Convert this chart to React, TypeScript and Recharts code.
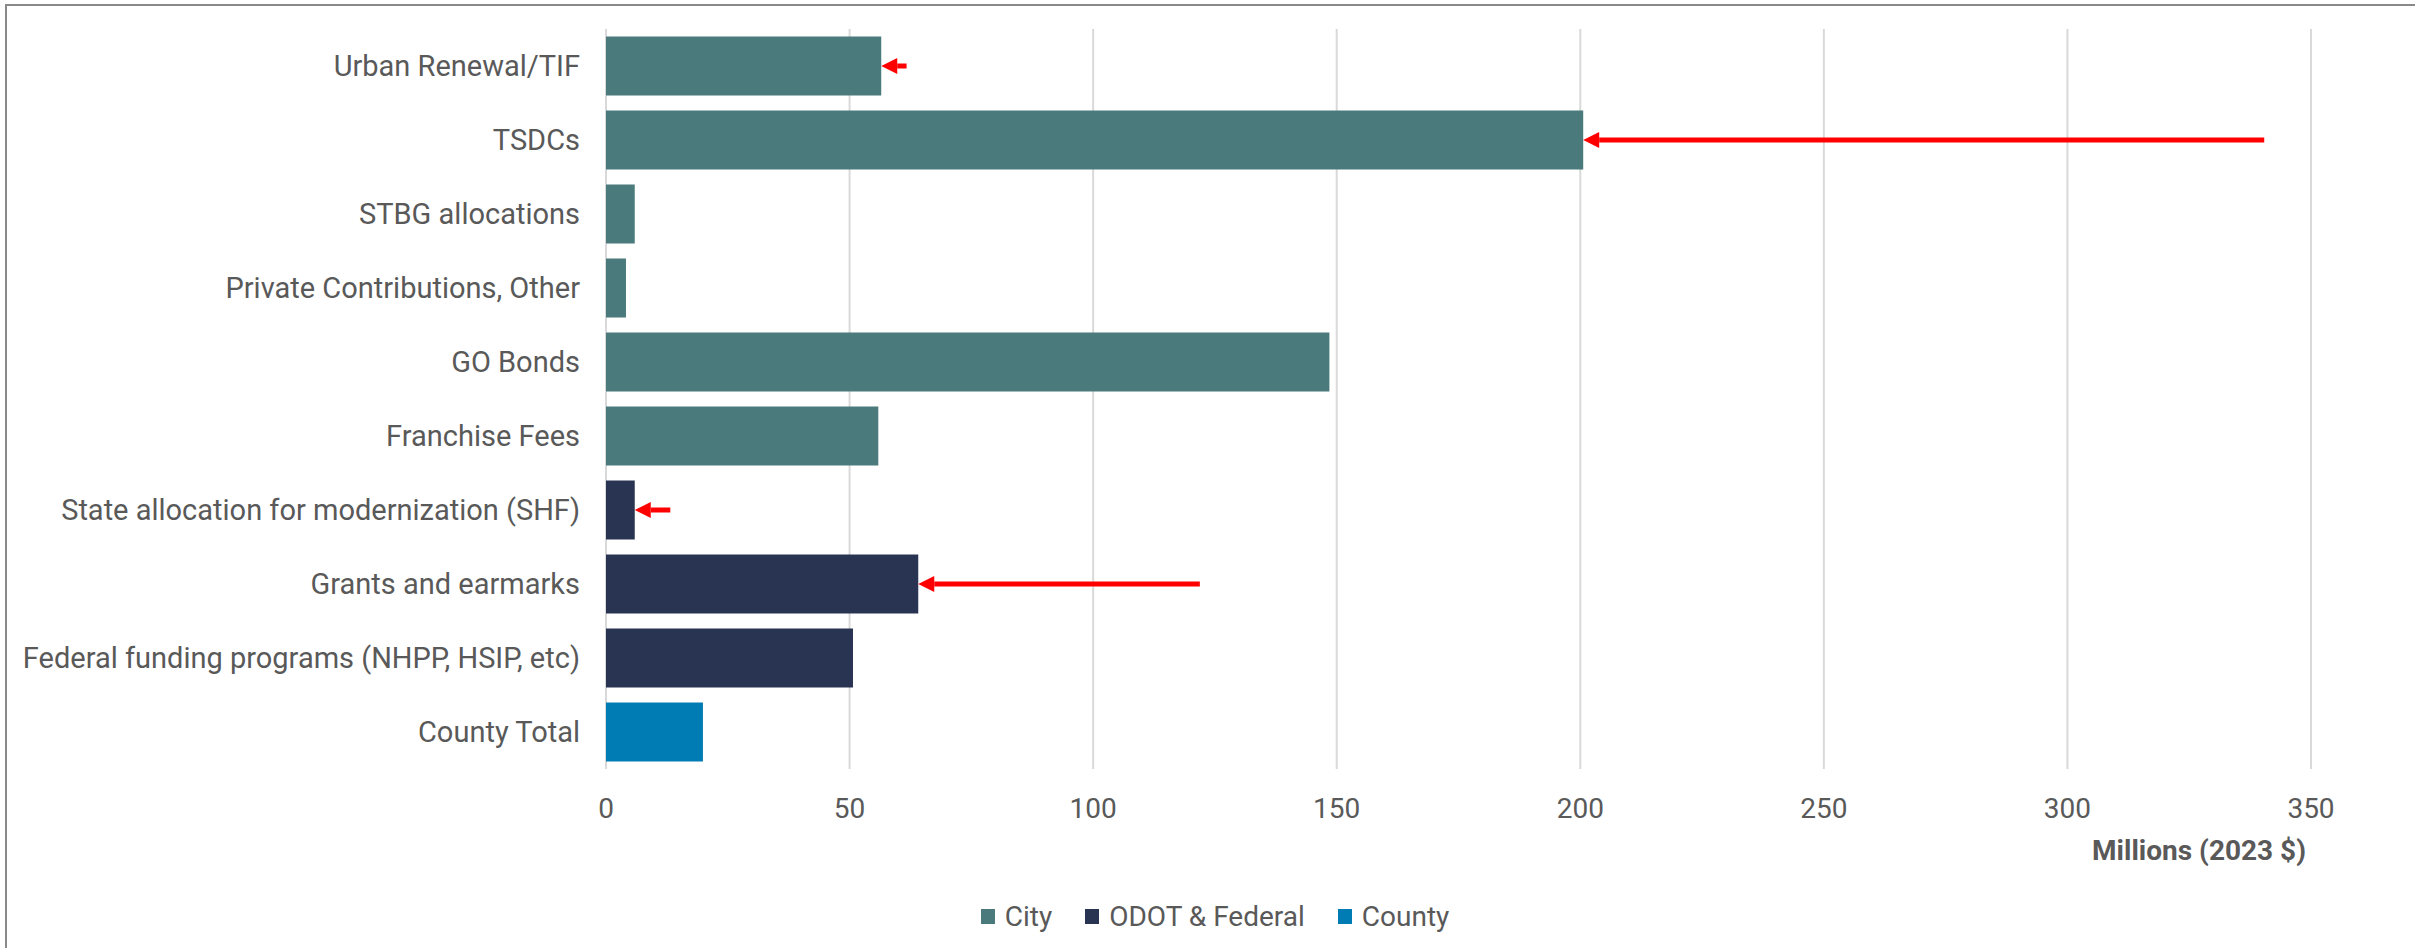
import React from 'react'
import {
  BarChart,
  Bar,
  XAxis,
  YAxis,
  CartesianGrid,
  Legend,
  ReferenceLine,
} from 'recharts'

const categories = [
  'Urban Renewal/TIF',
  'TSDCs',
  'STBG allocations',
  'Private Contributions, Other',
  'GO Bonds',
  'Franchise Fees',
  'State allocation for modernization (SHF)',
  'Grants and earmarks',
  'Federal funding programs (NHPP, HSIP, etc)',
  'County Total',
]

const cityValues = [56.5, 200.6, 5.9, 4.1, 148.5, 55.9, null, null, null, null]
const odotValues = [null, null, null, null, null, null, 5.9, 64.1, 50.7, null]
const countyValues = [null, null, null, null, null, null, null, null, null, 19.9]

const xTicks = [0, 50, 100, 150, 200, 250, 300, 350]

// red annotation arrows: category and where the tail starts (millions)
const arrowCategories = [
  'Urban Renewal/TIF',
  'TSDCs',
  'State allocation for modernization (SHF)',
  'Grants and earmarks',
]
const arrowTails = [61.7, 340.4, 13.2, 121.9]

const seriesNames = ['City', 'ODOT & Federal', 'County']
const seriesColors = ['#4a7a7b', '#293452', '#007cb4']

const TEXT = '#595959'
const FONT = 'Roboto, "Noto Sans", sans-serif'

const chartData = categories.map((name, i) => ({
  name,
  city: cityValues[i],
  odot: odotValues[i],
  county: countyValues[i],
}))

const totalFor = (name: string) => {
  const i = categories.indexOf(name)
  return (cityValues[i] ?? 0) + (odotValues[i] ?? 0) + (countyValues[i] ?? 0)
}

function Arrow(props: any) {
  const { x1, y1, x2 } = props
  if (x1 == null || x2 == null) return null
  const y = y1
  const head = 16
  const dir = x2 < x1 ? 1 : -1
  return (
    <g>
      <line x1={x1} y1={y} x2={x2 + dir * head} y2={y} stroke="#ff0000" strokeWidth={5} />
      <polygon
        points={`${x2},${y} ${x2 + dir * head},${y - 8} ${x2 + dir * head},${y + 8}`}
        fill="#ff0000"
      />
    </g>
  )
}

function LegendContent() {
  return (
    <div
      style={{
        height: 40,
        display: 'flex',
        alignItems: 'center',
        justifyContent: 'center',
        gap: 33,
        fontFamily: FONT,
        fontSize: 28,
        color: TEXT,
      }}
    >
      {seriesNames.map((s, i) => (
        <div key={s} style={{ display: 'flex', alignItems: 'center' }}>
          <span
            style={{
              display: 'inline-block',
              width: 14,
              height: 15,
              background: seriesColors[i],
              marginRight: 10,
            }}
          />
          <span>{s}</span>
        </div>
      ))}
    </div>
  )
}

export default function App() {
  return (
    <div
      style={{
        position: 'absolute',
        left: 0,
        top: 0,
        width: 2430,
        height: 948,
        background: '#fff',
        fontFamily: FONT,
      }}
    >
      <div style={{ position: 'absolute', left: 5, top: 4, width: 2410, height: 2, background: '#898989' }} />
      <div style={{ position: 'absolute', left: 5, top: 4, width: 2, height: 944, background: '#898989' }} />
      <BarChart
        width={2430}
        height={948}
        data={chartData}
        layout="vertical"
        barCategoryGap="10%"
        margin={{ top: 29, right: 119, left: 0, bottom: 12 }}
      >
        <CartesianGrid horizontal={false} stroke="#d9d9d9" strokeWidth={2} />
        <XAxis
          type="number"
          domain={[0, 350]}
          ticks={xTicks}
          interval={0}
          height={127}
          axisLine={false}
          tickLine={false}
          tickSize={0}
          tickMargin={29}
          tick={{ fill: TEXT, fontSize: 28, fontFamily: FONT }}
          label={{
            content: (p: any) => {
              const vb = p.viewBox
              return (
                <text
                  x={vb.x + vb.width - 5}
                  y={vb.y + 91}
                  textAnchor="end"
                  fill={TEXT}
                  fontSize={28}
                  fontWeight={700}
                  fontFamily={FONT}
                >
                  Millions (2023 $)
                </text>
              )
            },
          }}
        />
        <YAxis
          type="category"
          dataKey="name"
          width={606}
          axisLine={false}
          tickLine={false}
          tickSize={0}
          tickMargin={26}
          interval={0}
          tick={{ fill: TEXT, fontSize: 29, fontFamily: FONT }}
        />
        <Legend
          verticalAlign="bottom"
          content={<LegendContent />}
          wrapperStyle={{ left: 0, width: 2430, bottom: 12 }}
        />
        <Bar dataKey="city" name="City" stackId="a" fill={seriesColors[0]} isAnimationActive={false} />
        <Bar dataKey="odot" name="ODOT & Federal" stackId="a" fill={seriesColors[1]} isAnimationActive={false} />
        <Bar dataKey="county" name="County" stackId="a" fill={seriesColors[2]} isAnimationActive={false} />
        {arrowCategories.map((c, i) => (
          <ReferenceLine
            key={c}
            segment={[
              { x: arrowTails[i], y: c },
              { x: totalFor(c), y: c },
            ]}
            shape={(p: any) => <Arrow {...p} />}
          />
        ))}
      </BarChart>
    </div>
  )
}
